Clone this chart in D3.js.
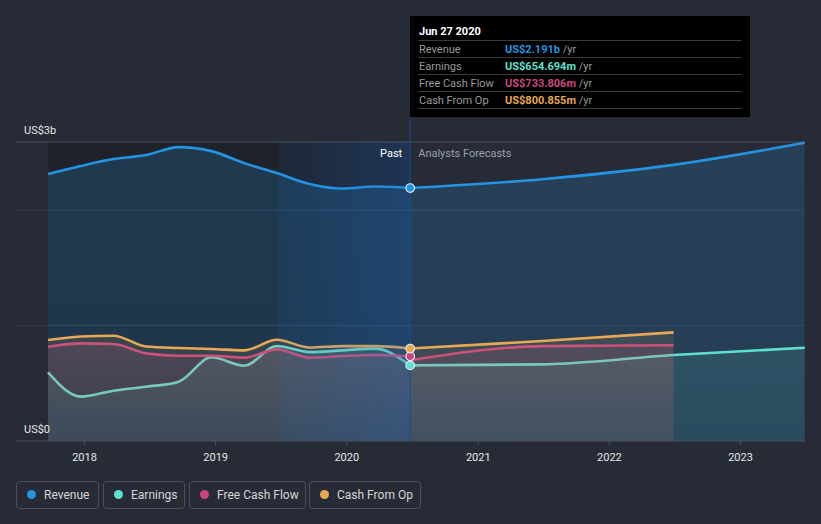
<!DOCTYPE html>
<html><head><meta charset="utf-8">
<script src="https://cdnjs.cloudflare.com/ajax/libs/d3/7.8.5/d3.min.js"></script>
<style>
html,body{margin:0;padding:0;background:#262b36;}
svg{display:block;font-family:Roboto,"Noto Sans",sans-serif;}
</style></head><body>
<svg id="chart" width="821" height="524"></svg>
<script>
// ---------- data ----------
const pastDates = ["2017-09-23","2017-12-23","2018-03-24","2018-06-23","2018-09-22","2018-12-22","2019-03-23","2019-06-22","2019-09-21","2019-12-21","2020-03-21","2020-06-27"];
const revenuePast = [2.312, 2.382, 2.442, 2.477, 2.546, 2.511, 2.407, 2.321, 2.226, 2.187, 2.204, 2.191];
const earningsPast = [0.595, 0.384, 0.436, 0.470, 0.514, 0.725, 0.652, 0.823, 0.770, 0.785, 0.800, 0.655];
const fcfPast = [0.817, 0.846, 0.840, 0.759, 0.739, 0.739, 0.722, 0.794, 0.722, 0.736, 0.745, 0.734];
const cfoPast = [0.875, 0.905, 0.912, 0.818, 0.805, 0.797, 0.785, 0.877, 0.810, 0.822, 0.822, 0.801];

const fcDatesLong = ["2020-06-27","2021-06-30","2022-06-30","2023-06-30"];
const fcDatesShort = ["2020-06-27","2021-06-30","2022-06-30"];
const revenueFc = [2.191, 2.268, 2.392, 2.583];
const earningsFc = [0.655, 0.664, 0.745, 0.808];
const fcfFc = [0.700, 0.822, 0.829];
const cfoFc = [0.801, 0.866, 0.941];

const yearTicks = ["2018","2019","2020","2021","2022","2023"];
const yLabels = ["US$0","US$3b"];
const gridValues = [1, 2];
const seriesNames = ["Revenue","Earnings","Free Cash Flow","Cash From Op"];
const seriesColors = ["#2394df","#5fe0cf","#c9467f","#e8a955"];
const tipTitle = "Jun 27 2020";
const tipValues = ["US$2.191b","US$654.694m","US$733.806m","US$800.855m"];

// ---------- setup ----------
const parse = d3.timeParse("%Y-%m-%d");
const svg = d3.select("#chart");
const x = d3.scaleTime().domain([parse("2018-01-01"), parse("2023-01-01")]).range([84, 740]);
const y = d3.scaleLinear().domain([0, 2.59]).range([441, 142]);
const left = 16, right = 805;
const nowDate = parse("2020-06-27");
const yearAgo = parse("2019-06-27");

const defs = svg.append("defs");
function grad(id, color, o1, o2){
  const g = defs.append("linearGradient").attr("id", id).attr("gradientUnits","userSpaceOnUse")
    .attr("x1",0).attr("x2",0).attr("y1",y(2.59)).attr("y2",y(0));
  g.append("stop").attr("offset",0).attr("stop-color",color).attr("stop-opacity",o1);
  g.append("stop").attr("offset",1).attr("stop-color",color).attr("stop-opacity",o2);
}
const bandG = defs.append("linearGradient").attr("id","band");
bandG.append("stop").attr("offset",0).attr("stop-color","#1f6fd8").attr("stop-opacity",0.08);
bandG.append("stop").attr("offset",1).attr("stop-color","#1f6fd8").attr("stop-opacity",0.24);

// past dark region
svg.append("rect").attr("x", x(parse(pastDates[0]))).attr("y", y(2.59))
  .attr("width", x(nowDate) - x(parse(pastDates[0]))).attr("height", y(0) - y(2.59))
  .attr("fill", "#000").attr("opacity", 0.2);

// gridlines
svg.append("g").selectAll("line").data(gridValues.concat([2.59])).join("line")
  .attr("x1", left).attr("x2", right).attr("y1", d => y(d)).attr("y2", d => y(d))
  .attr("stroke", d => d === 2.59 ? "#4b5160" : "#333a48").attr("stroke-width", 1);

// series
const series = [
  {past: revenuePast, fc: revenueFc, fcDates: fcDatesLong, op: [0.2, 0.18]},
  {past: earningsPast, fc: earningsFc, fcDates: fcDatesLong, op: [0.22, 0.08]},
  {past: fcfPast, fc: fcfFc, fcDates: fcDatesShort, op: [0.3, 0.08]},
  {past: cfoPast, fc: cfoFc, fcDates: fcDatesShort, op: [0.25, 0.06]}
];
const line = d3.line().x(d => x(d.date)).y(d => y(d.v)).curve(d3.curveMonotoneX);
const area = d3.area().x(d => x(d.date)).y0(y(0)).y1(d => y(d.v)).curve(d3.curveMonotoneX);

series.forEach((s, i) => {
  const p = s.past.map((v, j) => ({date: parse(pastDates[j]), v}));
  const f = s.fc.map((v, j) => ({date: parse(s.fcDates[j]), v}));
  grad("g" + i, seriesColors[i], s.op[0], s.op[1]);
  svg.append("path").datum(p).attr("d", area).attr("fill", `url(#g${i})`);
  svg.append("path").datum(f).attr("d", area).attr("fill", `url(#g${i})`);
  svg.append("path").datum(p).attr("d", line).attr("fill","none").attr("stroke", seriesColors[i]).attr("stroke-width", 2.6);
  svg.append("path").datum(f).attr("d", line).attr("fill","none").attr("stroke", seriesColors[i]).attr("stroke-width", 2.6);
});

// last-year highlight band
svg.append("rect").attr("x", x(yearAgo)).attr("y", y(2.59))
  .attr("width", x(nowDate) - x(yearAgo)).attr("height", y(0) - y(2.59))
  .attr("fill", "url(#band)");

// vertical line
svg.append("line").attr("x1", x(nowDate)).attr("x2", x(nowDate)).attr("y1", 117).attr("y2", y(0))
  .attr("stroke", "#1f4f8f").attr("stroke-width", 1.2).attr("opacity", 0.8);

// Past / Forecast labels
svg.append("text").attr("x", x(nowDate) - 8).attr("y", 157).attr("text-anchor","end")
  .attr("fill","#ffffff").attr("font-size", 11).text("Past");
svg.append("text").attr("x", x(nowDate) + 8).attr("y", 157)
  .attr("fill","#9aa0aa").attr("font-size", 11).text("Analysts Forecasts");

// dots
const dotVals = [revenuePast[11], earningsPast[11], fcfPast[11], cfoPast[11]];
svg.append("g").selectAll("circle").data(dotVals).join("circle")
  .attr("cx", x(nowDate)).attr("cy", d => y(d)).attr("r", 4.3)
  .attr("fill", (d, i) => seriesColors[i]).attr("stroke", "#e8eef5").attr("stroke-width", 1.2);

// x axis
svg.append("line").attr("x1", left).attr("x2", right).attr("y1", y(0)).attr("y2", y(0))
  .attr("stroke", "#4b5160").attr("stroke-width", 1);
const xAxis = svg.append("g").attr("transform", `translate(0,${y(0)})`)
  .call(d3.axisBottom(x).tickValues(yearTicks.map(t => parse(t + "-01-01"))).tickFormat(d3.timeFormat("%Y")).tickSize(4).tickPadding(8));
xAxis.select(".domain").remove();
xAxis.selectAll("line").attr("stroke", "#4b5160");
xAxis.selectAll("text").attr("fill", "#e6e6e6").attr("font-size", 11).attr("font-family","Roboto");

// y labels
svg.append("text").attr("x", 24).attr("y", 134).attr("fill","#e6e6e6").attr("font-size", 11).text(yLabels[1]);
svg.append("text").attr("x", 24).attr("y", 433).attr("fill","#e6e6e6").attr("font-size", 11).text(yLabels[0]);

// tooltip
const tip = svg.append("g").attr("transform", "translate(410,16)");
tip.append("rect").attr("width", 340).attr("height", 101).attr("fill", "#000");
tip.append("text").attr("x", 9).attr("y", 19).attr("fill","#fff").attr("font-size", 11).attr("font-weight","bold").text(tipTitle);
seriesNames.forEach((n, i) => {
  const ry = 24 + i * 17;
  tip.append("line").attr("x1", 8).attr("x2", 332).attr("y1", ry + 0.5).attr("y2", ry + 0.5).attr("stroke", "#3a3a3a");
  tip.append("text").attr("x", 9).attr("y", ry + 13).attr("fill", "#9a9a9a").attr("font-size", 11).text(n);
  const t = tip.append("text").attr("x", 95).attr("y", ry + 13).attr("font-size", 11);
  t.append("tspan").attr("fill", seriesColors[i]).attr("font-weight", "bold").text(tipValues[i]);
  t.append("tspan").attr("fill", "#9a9a9a").text(" /yr");
});
tip.append("line").attr("x1", 8).attr("x2", 332).attr("y1", 24 + 4 * 17 + 0.5).attr("y2", 24 + 4 * 17 + 0.5).attr("stroke", "#3a3a3a");

// legend
const legendX = [16, 103, 189, 309];
const legendW = [82, 81, 116, 111];
const leg = svg.append("g");
seriesNames.forEach((n, i) => {
  const g = leg.append("g").attr("transform", `translate(${legendX[i]},481)`);
  g.append("rect").attr("x", 0.5).attr("y", 0.5).attr("width", legendW[i]).attr("height", 27).attr("rx", 3)
    .attr("fill", "none").attr("stroke", "#4b5160");
  g.append("circle").attr("cx", 15.5).attr("cy", 13.5).attr("r", 4.5).attr("fill", seriesColors[i]);
  g.append("text").attr("x", 28).attr("y", 18).attr("fill", "#d6d6d6").attr("font-size", 12).text(n);
});
</script>
</body></html>
